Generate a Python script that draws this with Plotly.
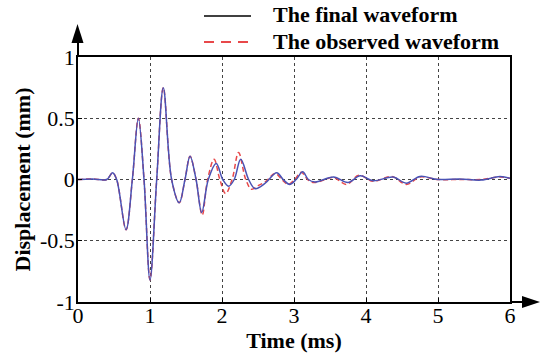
import plotly.graph_objects as go

# ---- data ----
time_final = [0.0, 0.2, 0.40, 0.48, 0.537, 0.667, 0.755, 0.838, 0.917, 1.0, 1.093, 1.185,
              1.30, 1.407, 1.486, 1.556, 1.64, 1.718, 1.81, 1.92, 2.01, 2.09, 2.17, 2.26,
              2.37, 2.46, 2.6, 2.76, 2.85, 2.94, 3.03, 3.12, 3.2, 3.29, 3.55, 3.75,
              3.92, 4.10, 4.38, 4.56, 4.75, 5.0, 5.3, 5.6, 5.86, 6.0]
disp_final = [0.0, 0.005, 0.0, 0.055, 0.0, -0.41, 0.0, 0.50, 0.0, -0.82, 0.0, 0.75,
              0.0, -0.19, 0.0, 0.19, 0.0, -0.27, 0.0, 0.13, 0.0, -0.055, 0.0, 0.165,
              0.0, -0.075, -0.03, 0.055, 0.0, -0.04, 0.0, 0.063, 0.0, -0.02, 0.02, -0.025,
              0.03, -0.01, 0.02, -0.03, 0.025, 0.0, 0.005, -0.005, 0.025, 0.01]

time_obs = [0.0, 0.2, 0.40, 0.48, 0.537, 0.667, 0.755, 0.838, 0.917, 1.0, 1.093, 1.185,
            1.30, 1.407, 1.486, 1.556, 1.64, 1.725, 1.80, 1.89, 1.97, 2.05, 2.14, 2.23,
            2.33, 2.41, 2.5, 2.6, 2.74, 2.83, 2.92, 3.01, 3.1, 3.19, 3.28, 3.55, 3.73,
            3.9, 4.10, 4.36, 4.56, 4.75, 5.0, 5.3, 5.6, 5.86, 6.0]
disp_obs = [0.0, 0.005, 0.0, 0.055, 0.0, -0.41, 0.0, 0.50, 0.0, -0.82, 0.0, 0.75,
            0.0, -0.19, 0.0, 0.19, 0.0, -0.29, 0.0, 0.165, 0.0, -0.115, 0.0, 0.22,
            0.0, -0.08, -0.05, -0.02, 0.05, 0.0, -0.04, 0.0, 0.06, 0.0, -0.025, 0.015, -0.04,
            0.035, -0.015, 0.025, -0.04, 0.02, 0.0, 0.0, 0.0, 0.02, 0.01]

series_names = ["The final waveform", "The observed waveform"]
x_ticks = [0, 1, 2, 3, 4, 5, 6]
y_ticks = [-1, -0.5, 0, 0.5, 1]
y_tick_text = ["-1", "-0.5", "0", "0.5", "1"]

SERIF = "Liberation Serif, Times New Roman, Times, serif"
W, H = 540, 356
ML, MR, MT, MB = 78, 30, 57, 54
PW, PH = W - ML - MR, H - MT - MB
BLUE = "#4a52b4"
RED = "#e8484a"

fig = go.Figure()
fig.add_trace(go.Scatter(x=time_obs, y=disp_obs, mode="lines", name=series_names[1],
                         showlegend=False,
                         line=dict(color=RED, width=1.5, dash="5px,3px", shape="spline",
                                   smoothing=1.0)))
fig.add_trace(go.Scatter(x=time_final, y=disp_final, mode="lines", name=series_names[0],
                         showlegend=False,
                         line=dict(color=BLUE, width=1.5, shape="spline", smoothing=1.0)))


def px2x(p):
    return (p - ML) / PW


def py2y(p):
    return (H - MB - p) / PH


shapes = [
    # x-axis arrow shaft and head
    dict(type="line", xref="paper", yref="paper", x0=1, x1=px2x(524), y0=0, y1=0,
         line=dict(color="black", width=2)),
    dict(type="path", xref="paper", yref="paper",
         path=f"M {px2x(540)} {py2y(302)} L {px2x(522)} {py2y(296)} L {px2x(522)} {py2y(308)} Z",
         fillcolor="black", line=dict(color="black", width=0)),
    # y-axis arrow shaft and head
    dict(type="line", xref="paper", yref="paper", x0=0, x1=0, y0=1, y1=py2y(40),
         line=dict(color="black", width=2)),
    dict(type="path", xref="paper", yref="paper",
         path=f"M {px2x(77.5)} {py2y(24)} L {px2x(71.5)} {py2y(43)} L {px2x(83.5)} {py2y(43)} Z",
         fillcolor="black", line=dict(color="black", width=0)),
    # legend samples
    dict(type="line", xref="paper", yref="paper", x0=px2x(204), x1=px2x(251),
         y0=py2y(16), y1=py2y(16), line=dict(color="black", width=1.5)),
    dict(type="line", xref="paper", yref="paper", x0=px2x(204), x1=px2x(251),
         y0=py2y(42), y1=py2y(42), line=dict(color=RED, width=2, dash="10px,7px")),
]

annotations = [
    dict(xref="paper", yref="paper", x=px2x(271), y=py2y(15), xanchor="left", yanchor="middle",
         text=series_names[0], showarrow=False,
         font=dict(family=SERIF, size=22, color="black", weight="bold")),
    dict(xref="paper", yref="paper", x=px2x(271), y=py2y(41), xanchor="left", yanchor="middle",
         text=series_names[1], showarrow=False,
         font=dict(family=SERIF, size=22, color="black", weight="bold")),
]

fig.update_layout(
    width=W, height=H,
    margin=dict(l=ML, r=MR, t=MT, b=MB, pad=0, autoexpand=False),
    plot_bgcolor="white", paper_bgcolor="white",
    font=dict(family=SERIF, color="black", size=22),
    showlegend=False,
    shapes=shapes,
    annotations=annotations,
)

fig.update_xaxes(range=[0, 6], tickvals=x_ticks, ticktext=[str(v) for v in x_ticks],
                 showgrid=True, gridcolor="#444", gridwidth=1, griddash="dot",
                 showline=True, linecolor="black", linewidth=1.6, mirror=True,
                 ticks="inside", ticklen=4, tickcolor="black",
                 ticklabelstandoff=-7,
                 zeroline=False,
                 tickfont=dict(family=SERIF, size=22, color="black"),
                 title=dict(text="Time (ms)", standoff=0,
                            font=dict(family=SERIF, size=22, weight="bold", color="black")))
fig.update_yaxes(range=[-1, 1], tickvals=y_ticks, ticktext=y_tick_text,
                 showgrid=True, gridcolor="#444", gridwidth=1, griddash="dot",
                 showline=True, linecolor="black", linewidth=1.6, mirror=True,
                 ticks="inside", ticklen=4, tickcolor="black",
                 ticklabelstandoff=-3,
                 zeroline=False,
                 tickfont=dict(family=SERIF, size=22, color="black"),
                 title=dict(text="Displacement (mm)", standoff=3,
                            font=dict(family=SERIF, size=22, weight="bold", color="black")))

fig.write_html("out.html")
